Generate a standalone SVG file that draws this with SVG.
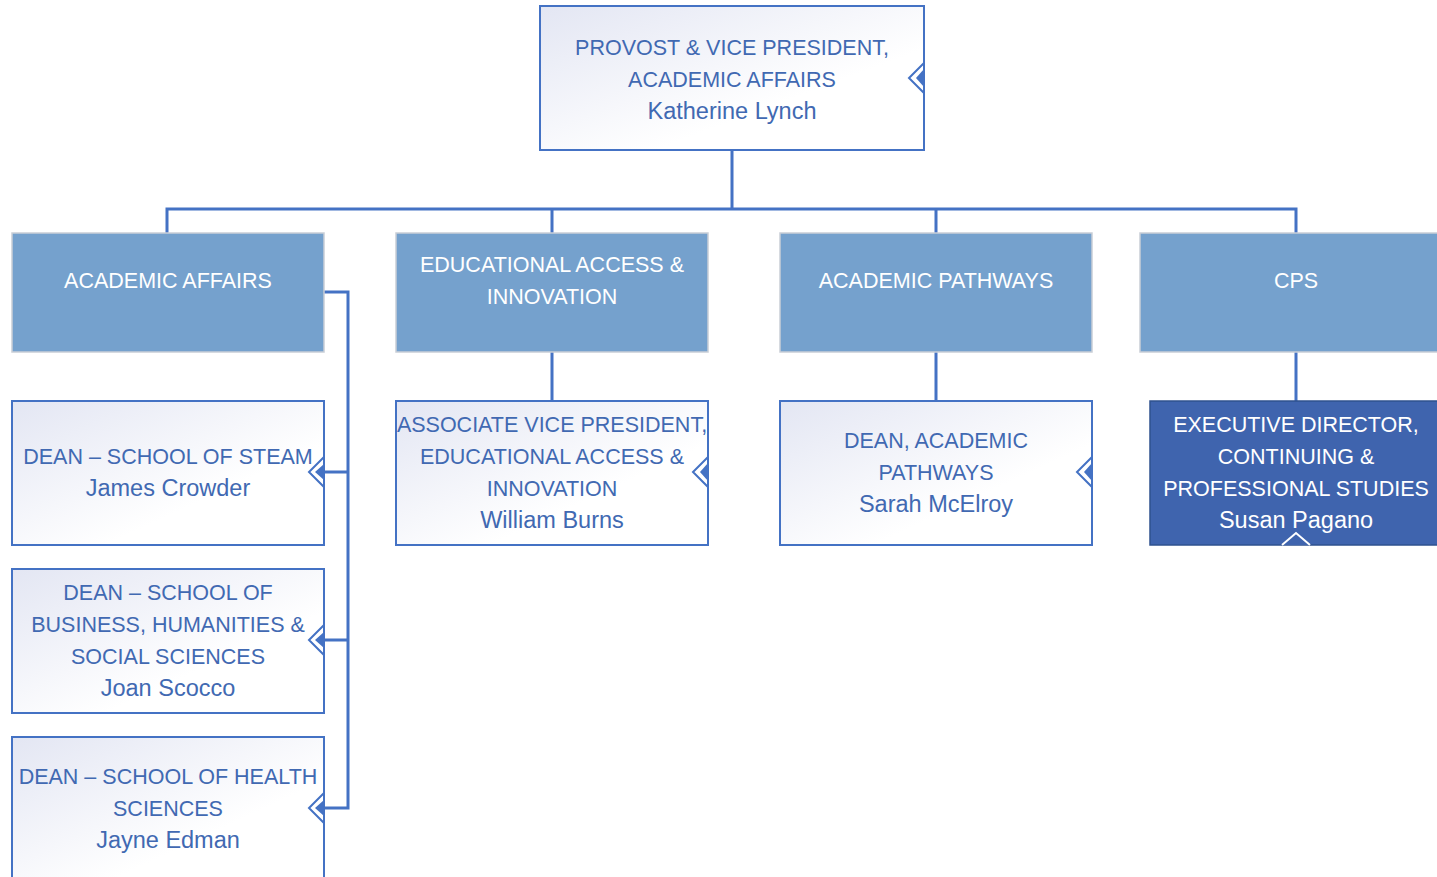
<svg xmlns="http://www.w3.org/2000/svg" width="1437" height="877" viewBox="0 0 1437 877">
<defs>
<linearGradient id="lg" x1="0" y1="0" x2="1" y2="1">
<stop offset="0" stop-color="#E3E6F3"/>
<stop offset="0.65" stop-color="#FFFFFF"/>
<stop offset="1" stop-color="#FFFFFF"/>
</linearGradient>
</defs>
<style>
.lt{fill:url(#lg);stroke:#4472C4;stroke-width:2}
.md{fill:#75A1CD;stroke:#C9CED6;stroke-width:1.5}
.dk{fill:#3F64AE;stroke:#2F528F;stroke-width:1.5}
.con{fill:none;stroke:#4472C4;stroke-width:3}
text{font-family:"Liberation Sans",Arial,sans-serif;font-size:21.5px;text-anchor:middle}
text.nm{font-size:23.5px}
.bt{fill:#4169B2}
.wt{fill:#FFFFFF}
.ch{fill:#FFFFFF;stroke:#4472C4;stroke-width:2}
.tri{fill:#4472C4}
</style>
<g id="connectors">
<path class="con" d="M732 150 V209 M167 233 V209 H1296 V233 M552 209 V233 M936 209 V233"/>
<path class="con" d="M552 352 V401 M936 352 V401 M1296 352 V401"/>
<path class="con" d="M324 292 H348 V808 H318 M348 472 H318 M348 640 H318"/>
</g>
<g id="provost">
<rect class="lt" x="540" y="6" width="384" height="144"/>
<polygon class="ch" points="924,63 909,78 924,93"/>
<polygon class="tri" points="924,69 916,78 924,87"/>
<text class="bt" x="732" y="55">PROVOST &amp; VICE PRESIDENT,</text>
<text class="bt" x="732" y="87">ACADEMIC AFFAIRS</text>
<text class="bt nm" x="732" y="119">Katherine Lynch</text>
</g>
<g id="academic-affairs">
<rect class="md" x="12" y="233" width="312" height="119"/>
<text class="wt" x="168" y="288">ACADEMIC AFFAIRS</text>
</g>
<g id="educational-access">
<rect class="md" x="396" y="233" width="312" height="119"/>
<text class="wt" x="552" y="272">EDUCATIONAL ACCESS &amp;</text>
<text class="wt" x="552" y="304">INNOVATION</text>
</g>
<g id="academic-pathways">
<rect class="md" x="780" y="233" width="312" height="119"/>
<text class="wt" x="936" y="288">ACADEMIC PATHWAYS</text>
</g>
<g id="cps">
<rect class="md" x="1140" y="233" width="312" height="119"/>
<text class="wt" x="1296" y="288">CPS</text>
</g>
<g id="dean-steam">
<rect class="lt" x="12" y="401" width="312" height="144"/>
<polygon class="ch" points="324,457 309,472 324,487"/>
<polygon class="tri" points="324,464 315,472 324,480"/>
<text class="bt" x="168" y="464">DEAN – SCHOOL OF STEAM</text>
<text class="bt nm" x="168" y="496">James Crowder</text>
</g>
<g id="avp-eai">
<rect class="lt" x="396" y="401" width="312" height="144"/>
<polygon class="ch" points="708,457 693,472 708,487"/>
<polygon class="tri" points="708,463 700,472 708,481"/>
<text class="bt" x="552" y="432">ASSOCIATE VICE PRESIDENT,</text>
<text class="bt" x="552" y="464">EDUCATIONAL ACCESS &amp;</text>
<text class="bt" x="552" y="496">INNOVATION</text>
<text class="bt nm" x="552" y="528">William Burns</text>
</g>
<g id="dean-pathways">
<rect class="lt" x="780" y="401" width="312" height="144"/>
<polygon class="ch" points="1092,457 1077,472 1092,487"/>
<polygon class="tri" points="1092,463 1084,472 1092,481"/>
<text class="bt" x="936" y="448">DEAN, ACADEMIC</text>
<text class="bt" x="936" y="480">PATHWAYS</text>
<text class="bt nm" x="936" y="512">Sarah McElroy</text>
</g>
<g id="exec-director">
<rect class="dk" x="1150" y="401" width="300" height="144"/>
<polyline points="1282,545 1296,533 1310,545" fill="#3F64AE" stroke="#FFFFFF" stroke-width="2"/>
<text class="wt" x="1296" y="432">EXECUTIVE DIRECTOR,</text>
<text class="wt" x="1296" y="464">CONTINUING &amp;</text>
<text class="wt" x="1296" y="496">PROFESSIONAL STUDIES</text>
<text class="wt nm" x="1296" y="528">Susan Pagano</text>
</g>
<g id="dean-business">
<rect class="lt" x="12" y="569" width="312" height="144"/>
<polygon class="ch" points="324,625 309,640 324,655"/>
<polygon class="tri" points="324,632 315,640 324,648"/>
<text class="bt" x="168" y="600">DEAN – SCHOOL OF</text>
<text class="bt" x="168" y="632">BUSINESS, HUMANITIES &amp;</text>
<text class="bt" x="168" y="664">SOCIAL SCIENCES</text>
<text class="bt nm" x="168" y="696">Joan Scocco</text>
</g>
<g id="dean-health">
<rect class="lt" x="12" y="737" width="312" height="146"/>
<polygon class="ch" points="324,793 309,808 324,823"/>
<polygon class="tri" points="324,800 315,808 324,816"/>
<text class="bt" x="168" y="784">DEAN – SCHOOL OF HEALTH</text>
<text class="bt" x="168" y="816">SCIENCES</text>
<text class="bt nm" x="168" y="848">Jayne Edman</text>
</g>
</svg>
